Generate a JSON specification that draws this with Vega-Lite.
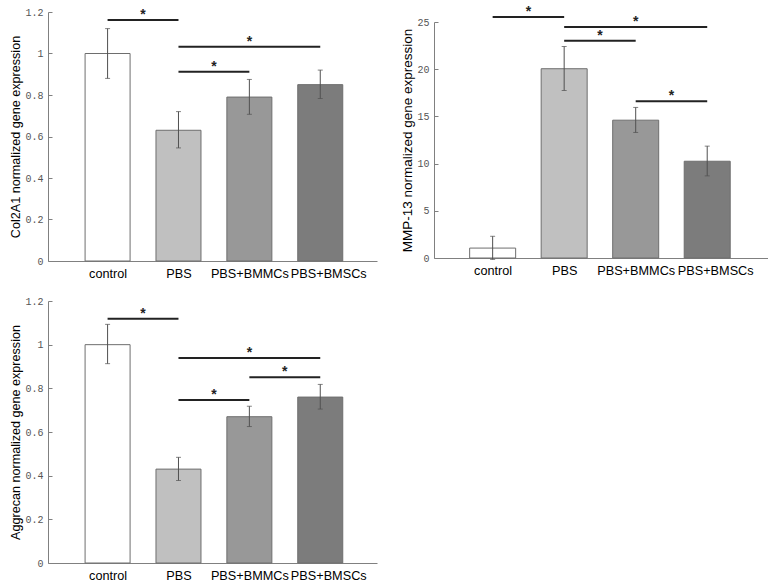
{
  "$schema": "https://vega.github.io/schema/vega-lite/v6.json",
  "background": "white",
  "padding": {"left": 9, "top": 4, "right": 0, "bottom": 0},
  "datasets": {
    "col2a1": [
      {"group": "control", "idx": 0, "mean": 1.0, "lo": 0.88, "hi": 1.12},
      {"group": "PBS", "idx": 1, "mean": 0.63, "lo": 0.545, "hi": 0.72},
      {"group": "PBS+BMMCs", "idx": 2, "mean": 0.79, "lo": 0.707, "hi": 0.875},
      {"group": "PBS+BMSCs", "idx": 3, "mean": 0.85, "lo": 0.783, "hi": 0.92}
    ],
    "col2a1_sig": [
      {"from": 0, "to": 1, "y": 1.161},
      {"from": 1, "to": 3, "y": 1.033},
      {"from": 1, "to": 2, "y": 0.912}
    ],
    "mmp13": [
      {"group": "control", "idx": 0, "mean": 1.05, "lo": -0.15, "hi": 2.3},
      {"group": "PBS", "idx": 1, "mean": 20.05, "lo": 17.75, "hi": 22.4},
      {"group": "PBS+BMMCs", "idx": 2, "mean": 14.6, "lo": 13.3, "hi": 15.95},
      {"group": "PBS+BMSCs", "idx": 3, "mean": 10.25, "lo": 8.7, "hi": 11.85}
    ],
    "mmp13_sig": [
      {"from": 0, "to": 1, "y": 25.53},
      {"from": 1, "to": 3, "y": 24.47},
      {"from": 1, "to": 2, "y": 23.02},
      {"from": 2, "to": 3, "y": 16.6}
    ],
    "aggrecan": [
      {"group": "control", "idx": 0, "mean": 1.0, "lo": 0.913, "hi": 1.093},
      {"group": "PBS", "idx": 1, "mean": 0.43, "lo": 0.378, "hi": 0.484},
      {"group": "PBS+BMMCs", "idx": 2, "mean": 0.67, "lo": 0.625, "hi": 0.718},
      {"group": "PBS+BMSCs", "idx": 3, "mean": 0.76, "lo": 0.705, "hi": 0.818}
    ],
    "aggrecan_sig": [
      {"from": 0, "to": 1, "y": 1.119},
      {"from": 1, "to": 3, "y": 0.939},
      {"from": 2, "to": 3, "y": 0.851},
      {"from": 1, "to": 2, "y": 0.747}
    ]
  },
  "config": {
    "view": {"stroke": null},
    "font": "Liberation Sans",
    "axis": {"grid": false, "domainColor": "#808080", "domainWidth": 1},
    "axisX": {
      "values": [0, 1, 2, 3],
      "labelExpr": "['control','PBS','PBS+BMMCs','PBS+BMSCs'][datum.value]",
      "title": null,
      "ticks": false,
      "labelFont": "Liberation Sans",
      "labelFontSize": 12.7,
      "labelColor": "#000000",
      "labelPadding": 6,
      "labelOverlap": false,
      "labelFlush": false,
      "labelBound": false
    },
    "axisY": {
      "format": "~g",
      "labelFont": "Liberation Mono",
      "labelFontSize": 10,
      "labelColor": "#555555",
      "tickSize": -4,
      "tickColor": "#808080",
      "labelPadding": 9,
      "labelFlush": false,
      "titleFont": "Liberation Sans",
      "titleFontSize": 12.6,
      "titleFontWeight": "normal",
      "titleColor": "#000000",
      "titlePadding": 2
    }
  },
  "vconcat": [
    {
      "hconcat": [
        {
          "width": 329, "height": 249,
          "layer": [
            {"data": {"name": "col2a1"},
             "mark": {"type": "bar", "width": 45, "stroke": "#6e6e6e", "strokeWidth": 1},
             "encoding": {
               "x": {"field": "idx", "type": "quantitative", "scale": {"domain": [-0.77, 3.73], "nice": false, "zero": false},
                     "axis": {"labelOffset": {"condition": {"test": "datum.value == 3", "value": 8}, "value": 0}}},
               "y": {"field": "mean", "type": "quantitative", "scale": {"domain": [0, 1.2], "nice": false},
                     "axis": {"values": [0, 0.2, 0.4, 0.6, 0.8, 1, 1.2], "title": "Col2A1 normalized gene expression"}},
               "color": {"field": "group", "type": "nominal", "scale": {"domain": ["control", "PBS", "PBS+BMMCs", "PBS+BMSCs"], "range": ["#ffffff", "#c0c0c0", "#989898", "#7c7c7c"]}, "legend": null}
             }},
            {"data": {"name": "col2a1"},
             "mark": {"type": "rule", "color": "#505050", "strokeWidth": 1},
             "encoding": {"x": {"field": "idx", "type": "quantitative"}, "y": {"field": "lo", "type": "quantitative"}, "y2": {"field": "hi"}}},
            {"data": {"name": "col2a1"},
             "mark": {"type": "tick", "orient": "horizontal", "size": 5, "thickness": 1, "color": "#505050"},
             "encoding": {"x": {"field": "idx", "type": "quantitative"}, "y": {"field": "lo", "type": "quantitative"}}},
            {"data": {"name": "col2a1"},
             "mark": {"type": "tick", "orient": "horizontal", "size": 5, "thickness": 1, "color": "#505050"},
             "encoding": {"x": {"field": "idx", "type": "quantitative"}, "y": {"field": "hi", "type": "quantitative"}}},
            {"data": {"name": "col2a1_sig"},
             "mark": {"type": "rule", "color": "#222222", "strokeWidth": 2},
             "encoding": {"x": {"field": "from", "type": "quantitative"}, "x2": {"field": "to"}, "y": {"field": "y", "type": "quantitative"}}},
            {"data": {"name": "col2a1_sig"},
             "transform": [{"calculate": "(datum.from + datum.to) / 2", "as": "mid"}],
             "mark": {"type": "text", "text": "*", "font": "Liberation Sans", "fontSize": 14, "fontWeight": "bold", "baseline": "alphabetic", "dy": -1, "color": "#222222"},
             "encoding": {"x": {"field": "mid", "type": "quantitative"}, "y": {"field": "y", "type": "quantitative"}}}
          ]
        },
        {
          "width": 334, "height": 246,
          "layer": [
            {"data": {"name": "mmp13"},
             "mark": {"type": "bar", "width": 46, "stroke": "#6e6e6e", "strokeWidth": 1},
             "encoding": {
               "x": {"field": "idx", "type": "quantitative", "scale": {"domain": [-0.75, 3.78], "nice": false, "zero": false},
                     "axis": {"labelOffset": {"condition": {"test": "datum.value == 3", "value": 8}, "value": 0}}},
               "y": {"field": "mean", "type": "quantitative", "scale": {"domain": [0, 25], "nice": false, "range": [246, 10]},
                     "axis": {"values": [0, 5, 10, 15, 20, 25], "title": "MMP-13 normalized gene expression", "titleFontSize": 13.5}},
               "color": {"field": "group", "type": "nominal", "scale": {"domain": ["control", "PBS", "PBS+BMMCs", "PBS+BMSCs"], "range": ["#ffffff", "#c0c0c0", "#989898", "#7c7c7c"]}, "legend": null}
             }},
            {"data": {"name": "mmp13"},
             "mark": {"type": "rule", "color": "#505050", "strokeWidth": 1},
             "encoding": {"x": {"field": "idx", "type": "quantitative"}, "y": {"field": "lo", "type": "quantitative"}, "y2": {"field": "hi"}}},
            {"data": {"name": "mmp13"},
             "mark": {"type": "tick", "orient": "horizontal", "size": 5, "thickness": 1, "color": "#505050"},
             "encoding": {"x": {"field": "idx", "type": "quantitative"}, "y": {"field": "lo", "type": "quantitative"}}},
            {"data": {"name": "mmp13"},
             "mark": {"type": "tick", "orient": "horizontal", "size": 5, "thickness": 1, "color": "#505050"},
             "encoding": {"x": {"field": "idx", "type": "quantitative"}, "y": {"field": "hi", "type": "quantitative"}}},
            {"data": {"name": "mmp13_sig"},
             "mark": {"type": "rule", "color": "#222222", "strokeWidth": 2},
             "encoding": {"x": {"field": "from", "type": "quantitative"}, "x2": {"field": "to"}, "y": {"field": "y", "type": "quantitative"}}},
            {"data": {"name": "mmp13_sig"},
             "transform": [{"calculate": "(datum.from + datum.to) / 2", "as": "mid"}],
             "mark": {"type": "text", "text": "*", "font": "Liberation Sans", "fontSize": 14, "fontWeight": "bold", "baseline": "alphabetic", "dy": -1, "color": "#222222"},
             "encoding": {"x": {"field": "mid", "type": "quantitative"}, "y": {"field": "y", "type": "quantitative"}}}
          ]
        }
      ],
      "spacing": 23
    },
    {
      "width": 329, "height": 262,
      "layer": [
        {"data": {"name": "aggrecan"},
         "mark": {"type": "bar", "width": 45, "stroke": "#6e6e6e", "strokeWidth": 1},
         "encoding": {
           "x": {"field": "idx", "type": "quantitative", "scale": {"domain": [-0.77, 3.73], "nice": false, "zero": false},
                 "axis": {"labelOffset": {"condition": {"test": "datum.value == 3", "value": 8}, "value": 0}}},
           "y": {"field": "mean", "type": "quantitative", "scale": {"domain": [0, 1.2], "nice": false},
                 "axis": {"values": [0, 0.2, 0.4, 0.6, 0.8, 1, 1.2], "title": "Aggrecan normalized gene expression"}},
           "color": {"field": "group", "type": "nominal", "scale": {"domain": ["control", "PBS", "PBS+BMMCs", "PBS+BMSCs"], "range": ["#ffffff", "#c0c0c0", "#989898", "#7c7c7c"]}, "legend": null}
         }},
        {"data": {"name": "aggrecan"},
         "mark": {"type": "rule", "color": "#505050", "strokeWidth": 1},
         "encoding": {"x": {"field": "idx", "type": "quantitative"}, "y": {"field": "lo", "type": "quantitative"}, "y2": {"field": "hi"}}},
        {"data": {"name": "aggrecan"},
         "mark": {"type": "tick", "orient": "horizontal", "size": 5, "thickness": 1, "color": "#505050"},
         "encoding": {"x": {"field": "idx", "type": "quantitative"}, "y": {"field": "lo", "type": "quantitative"}}},
        {"data": {"name": "aggrecan"},
         "mark": {"type": "tick", "orient": "horizontal", "size": 5, "thickness": 1, "color": "#505050"},
         "encoding": {"x": {"field": "idx", "type": "quantitative"}, "y": {"field": "hi", "type": "quantitative"}}},
        {"data": {"name": "aggrecan_sig"},
         "mark": {"type": "rule", "color": "#222222", "strokeWidth": 2},
         "encoding": {"x": {"field": "from", "type": "quantitative"}, "x2": {"field": "to"}, "y": {"field": "y", "type": "quantitative"}}},
        {"data": {"name": "aggrecan_sig"},
         "transform": [{"calculate": "(datum.from + datum.to) / 2", "as": "mid"}],
         "mark": {"type": "text", "text": "*", "font": "Liberation Sans", "fontSize": 14, "fontWeight": "bold", "baseline": "alphabetic", "dy": -1, "color": "#222222"},
         "encoding": {"x": {"field": "mid", "type": "quantitative"}, "y": {"field": "y", "type": "quantitative"}}}
      ]
    }
  ],
  "spacing": 16
}
